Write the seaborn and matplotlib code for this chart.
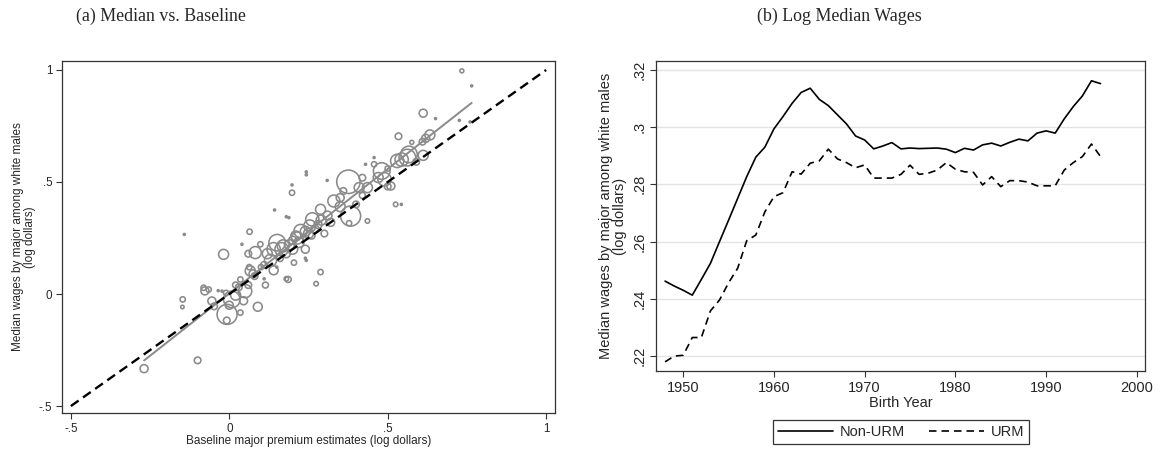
import numpy as np
import pandas as pd
import matplotlib
matplotlib.use("Agg")
import matplotlib.pyplot as plt
from matplotlib.lines import Line2D
from matplotlib.ticker import FuncFormatter
import seaborn as sns

# ---------------- Panel (a) data ----------------
baseline = [-0.269, -0.100, -0.147, -0.148, -0.142, -0.081, -0.077, -0.065, -0.055, -0.048,
            -0.023, -0.035, -0.018, -0.007, -0.008, 0.008, 0.020, 0.035, 0.050, 0.045,
            0.035, 0.090, 0.060, 0.066, 0.063, 0.080, 0.082, 0.060, 0.098, 0.040,
            0.064, 0.114, 0.110, 0.140, 0.150, 0.186, 0.204, 0.243, 0.180, 0.274,
            0.288, 0.240, 0.151, 0.140, 0.120, 0.170, 0.200, 0.240, 0.210, 0.225,
            0.254, 0.262, 0.240, 0.270, 0.288, 0.290, 0.330, 0.188, 0.180, 0.143,
            0.198, 0.198, 0.243, 0.243, 0.309, 0.376, 0.383, 0.378, 0.436, 0.525,
            0.543, 0.420, 0.436, 0.410, 0.420, 0.350, 0.360, 0.400, 0.430, 0.457,
            0.457, 0.481, 0.490, 0.510, 0.530, 0.544, 0.567, 0.562, 0.612, 0.576,
            0.534, 0.612, 0.651, 0.633, 0.620, 0.610, 0.726, 0.760, 0.734, 0.765,
            0.590, 0.500, 0.470, 0.320, 0.300, 0.180, 0.160, 0.100, 0.030, -0.010,
            0.000, 0.200, 0.220, 0.260, 0.350, 0.500,
            0.130, 0.165, 0.190, 0.215, 0.250, 0.280, 0.110, 0.020, 0.075, 0.310]
median = [-0.333, -0.296, -0.024, -0.058, 0.266, 0.028, 0.014, 0.020, -0.031, -0.055,
          0.013, 0.015, 0.177, -0.091, -0.118, -0.024, -0.005, -0.083, 0.013, -0.030,
          0.065, -0.057, 0.040, 0.103, 0.120, 0.080, 0.185, 0.180, 0.222, 0.222,
          0.278, 0.040, 0.068, 0.106, 0.120, 0.065, 0.140, 0.150, 0.068, 0.046,
          0.098, 0.160, 0.229, 0.200, 0.180, 0.215, 0.240, 0.200, 0.259, 0.281,
          0.304, 0.333, 0.280, 0.290, 0.378, 0.330, 0.415, 0.341, 0.345, 0.375,
          0.452, 0.487, 0.545, 0.532, 0.507, 0.501, 0.348, 0.316, 0.326, 0.400,
          0.400, 0.519, 0.475, 0.475, 0.440, 0.430, 0.460, 0.400, 0.579, 0.579,
          0.609, 0.549, 0.512, 0.482, 0.594, 0.600, 0.623, 0.609, 0.619, 0.677,
          0.704, 0.807, 0.783, 0.710, 0.695, 0.680, 0.775, 0.768, 0.996, 0.929,
          0.590, 0.560, 0.520, 0.320, 0.270, 0.180, 0.160, 0.120, 0.030, 0.005,
          -0.050, 0.200, 0.230, 0.260, 0.390, 0.480,
          0.150, 0.200, 0.220, 0.250, 0.270, 0.310, 0.130, 0.040, 0.090, 0.350]
weight = [16, 11, 7, 3, 1, 7, 16, 7, 16, 11,
          1, 1, 25, 100, 11, 69, 25, 7, 44, 16,
          7, 20, 11, 25, 7, 11, 36, 11, 7, 1,
          7, 9, 1, 20, 1, 9, 7, 1, 5, 5,
          7, 1, 69, 44, 25, 36, 16, 16, 25, 44,
          36, 44, 25, 16, 25, 25, 36, 1, 1, 1,
          7, 1, 1, 1, 1, 137, 100, 7, 5, 5,
          1, 11, 25, 25, 9, 16, 11, 11, 1, 7,
          1, 69, 44, 16, 44, 44, 69, 69, 25, 4,
          11, 16, 1, 25, 16, 11, 1, 1, 4, 1,
          11, 7, 25, 16, 11, 16, 11, 7, 11, 7,
          16, 25, 25, 11, 25, 11,
          36, 44, 25, 36, 25, 16, 11, 9, 16, 20]
ref_range = [-0.5, 1.0]
ab_ticks = [-0.5, 0, 0.5, 1]

# ---------------- Panel (b) data ----------------
years = list(range(1948, 1997))
non_urm = [0.2462, 0.2445, 0.2430, 0.2413, 0.2468, 0.2524, 0.2600, 0.2675, 0.2751, 0.2827,
           0.2895, 0.2930, 0.2994, 0.3037, 0.3083, 0.3121, 0.3136, 0.3097, 0.3075, 0.3043,
           0.3011, 0.2969, 0.2955, 0.2924, 0.2934, 0.2946, 0.2924, 0.2927, 0.2925, 0.2926,
           0.2927, 0.2923, 0.2911, 0.2926, 0.2920, 0.2938, 0.2944, 0.2934, 0.2947, 0.2958,
           0.2952, 0.2979, 0.2987, 0.2979, 0.3029, 0.3072, 0.3109, 0.3162, 0.3152]
urm = [0.2180, 0.2200, 0.2203, 0.2265, 0.2265, 0.2358, 0.2396, 0.2456, 0.2507, 0.2603,
       0.2623, 0.2704, 0.2757, 0.2771, 0.2844, 0.2836, 0.2874, 0.2882, 0.2923, 0.2889,
       0.2876, 0.2858, 0.2868, 0.2822, 0.2822, 0.2822, 0.2835, 0.2867, 0.2835, 0.2839,
       0.2850, 0.2876, 0.2853, 0.2844, 0.2842, 0.2798, 0.2827, 0.2792, 0.2813, 0.2813,
       0.2808, 0.2795, 0.2795, 0.2795, 0.2850, 0.2876, 0.2897, 0.2941, 0.2897]
year_ticks = [1950, 1960, 1970, 1980, 1990, 2000]
wage_ticks = [0.22, 0.24, 0.26, 0.28, 0.30, 0.32]

# ---------------- Style ----------------
sns.set_style("ticks")
plt.rcParams['font.family'] = ['Liberation Sans', 'DejaVu Sans']
GRAY = '#8a8a8a'


def stata_fmt(v, pos=None):
    s = '%g' % round(v, 4)
    if s.startswith('0.'):
        s = s[1:]
    elif s.startswith('-0.'):
        s = '-' + s[2:]
    return s


fig = plt.figure(figsize=(11.58, 4.5), dpi=100)
ax1 = fig.add_axes([62 / 1158, 1 - 413 / 450, 493 / 1158, 352 / 450])
ax2 = fig.add_axes([656 / 1158, 1 - 371 / 450, 489 / 1158, 310 / 450])

# ---------------- Panel (a) ----------------
df_a = pd.DataFrame({'baseline': baseline, 'median': median, 'weight': weight})
wmin, wmax = min(weight), max(weight)
sns.scatterplot(data=df_a, x='baseline', y='median', size='weight',
                sizes=(2.07 * wmin, 2.07 * wmax), size_norm=(wmin, wmax),
                facecolors='none', edgecolor=GRAY, linewidth=1.15,
                legend=False, ax=ax1, zorder=2)

# weighted linear fit
coef = np.polyfit(df_a['baseline'], df_a['median'], 1, w=np.sqrt(df_a['weight']))
xfit = np.array([df_a['baseline'].min(), df_a['baseline'].max()])
sns.lineplot(x=xfit, y=np.polyval(coef, xfit), color=GRAY, linewidth=1.4, ax=ax1, zorder=3)

# 45-degree line
sns.lineplot(x=ref_range, y=ref_range, color='black', linewidth=1.7,
             linestyle=(0, (4, 2.3)), ax=ax1, zorder=4)

ax1.set_xlim(-0.528, 1.028)
ax1.set_ylim(-0.531, 1.04)
ax1.set_xticks(ab_ticks)
ax1.set_yticks(ab_ticks)
ax1.xaxis.set_major_formatter(FuncFormatter(stata_fmt))
ax1.yaxis.set_major_formatter(FuncFormatter(stata_fmt))
ax1.tick_params(axis='both', labelsize=8.4, length=4, width=0.8, color='#333333', pad=3)
ax1.set_xlabel('Baseline major premium estimates (log dollars)', fontsize=8.5, labelpad=0)
ax1.set_ylabel('Median wages by major among white males\n(log dollars)', fontsize=8.5,
               labelpad=2, linespacing=1.0)
for sp in ax1.spines.values():
    sp.set_visible(True)
    sp.set_linewidth(0.9)
    sp.set_color('#333333')

# ---------------- Panel (b) ----------------
df_b = pd.DataFrame({'year': years, 'Non-URM': non_urm, 'URM': urm})
sns.lineplot(data=df_b, x='year', y='Non-URM', color='black', linewidth=1.2, ax=ax2)
sns.lineplot(data=df_b, x='year', y='URM', color='black', linewidth=1.2,
             linestyle=(0, (4.5, 3)), ax=ax2)

ax2.set_xlim(1947.0, 2000.9)
ax2.set_ylim(0.2148, 0.3231)
ax2.set_xticks(year_ticks)
ax2.set_yticks(wage_ticks)
ax2.yaxis.set_major_formatter(FuncFormatter(stata_fmt))
ax2.grid(axis='y', color='#e4e4e4', linewidth=1.0)
ax2.set_axisbelow(True)
ax2.tick_params(axis='both', labelsize=10.5, length=4, width=0.8, color='#333333', pad=3)
for lab in ax2.get_yticklabels():
    lab.set_rotation(90)
    lab.set_va('center')
ax2.set_xlabel('Birth Year', fontsize=10.5, labelpad=1)
ax2.set_ylabel('Median wages by major among white males\n(log dollars)', fontsize=10.5,
               labelpad=4, linespacing=0.95)
for sp in ax2.spines.values():
    sp.set_visible(True)
    sp.set_linewidth(0.9)
    sp.set_color('#333333')

handles = [Line2D([], [], color='black', linewidth=1.2),
           Line2D([], [], color='black', linewidth=1.2, linestyle=(0, (4.5, 3)))]
leg = ax2.legend(handles, ['Non-URM', 'URM'], loc='center',
                 bbox_to_anchor=(901 / 1158, 1 - 432 / 450), bbox_transform=fig.transFigure,
                 ncol=2, frameon=True, fancybox=False, edgecolor='black', fontsize=10.5,
                 handlelength=3.8, columnspacing=1.6, borderpad=0.35, handletextpad=0.45)
leg.get_frame().set_linewidth(0.9)

# ---------------- Titles ----------------
fig.text(161 / 1158, 1 - 16 / 450, '(a) Median vs. Baseline', ha='center', va='center',
         fontsize=12.9, family=['Liberation Serif', 'DejaVu Serif'])
fig.text(839 / 1158, 1 - 16 / 450, '(b) Log Median Wages', ha='center', va='center',
         fontsize=12.9, family=['Liberation Serif', 'DejaVu Serif'])

fig.savefig('out.png', dpi=100)
